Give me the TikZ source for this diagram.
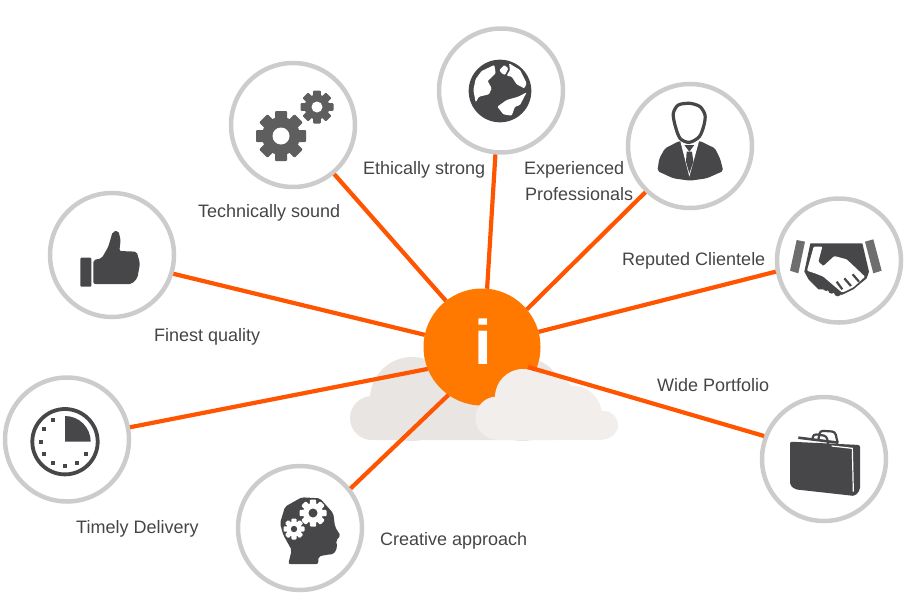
\documentclass[tikz,border=0pt]{standalone}
\usepackage{fontspec}
\setmainfont{Liberation Sans}
\usetikzlibrary{calc}
\definecolor{ringgrey}{rgb}{0.80, 0.80, 0.80}
\definecolor{spokeorange}{rgb}{1.0, 0.33, 0.0}
\definecolor{huborange}{rgb}{1.0, 0.47, 0.0}
\definecolor{icondark}{rgb}{0.28, 0.28, 0.29}
\definecolor{geargrey}{rgb}{0.37, 0.37, 0.37}
\definecolor{bargrey}{rgb}{0.43, 0.43, 0.43}
\definecolor{textgrey}{rgb}{0.27, 0.27, 0.28}
\definecolor{cloudback}{rgb}{0.91, 0.90, 0.89}
\definecolor{cloudfront}{rgb}{0.945, 0.933, 0.925}
\tikzset{
	ring/.style={circle, draw=ringgrey, fill=white, line width=4.5pt, minimum size=124pt, inner sep=0pt, outer sep=2.2pt},
	hub/.style={circle, fill=huborange, minimum size=117pt, inner sep=0pt, outer sep=0pt},
	spoke/.style={line width=4.2pt, spokeorange},
	lbl/.style={anchor=west, inner sep=0pt, text=textgrey, font=\fontsize{18}{26}\selectfont}
}
% x, y, tooth radius, body radius, hole radius, gear colour, hole colour
\newcommand{\gearicon}[7]{
	\foreach \a in {0,45,90,135} {
		\fill[#6, rotate around={\a:(#1,#2)}, rounded corners=1pt] ({#1-#3*0.24},{#2-#3}) rectangle ({#1+#3*0.24},{#2+#3});
	}
	\fill[#6] (#1,#2) circle (#4);
	\fill[#7] (#1,#2) circle (#5);
}

\begin{document}
\begin{tikzpicture}[x=1pt, y=-1pt]
	\useasboundingbox (0,0) rectangle (910,600);

	\fill[cloudback] (372,418) circle (22);
	\fill[cloudback] (412,399) circle (42);
	\fill[cloudback] (522,399) circle (42);
	\fill[cloudback, rounded corners=3pt] (372,399) rectangle (560,440);

	\node[hub] (info) at (482,347) {};
	\node[font=\bfseries\fontsize{63}{63}\selectfont, text=white, inner sep=0pt] (infotext) at (483,342) {i};

	\node[ring] (gears) at (293,125) {};
	\node[ring] (globe) at (501,90.5) {};
	\node[ring] (person) at (690,146) {};
	\node[ring] (shake) at (839,260.5) {};
	\node[ring] (thumb) at (112,255) {};
	\node[ring] (clock) at (67,439.5) {};
	\node[ring] (head) at (300,528) {};
	\node[ring] (case) at (824,459) {};

	\draw[spoke] (gears.-50) -- (info.128);
	\draw[spoke] (globe.-95) -- (info.85);
	\draw[spoke] (person.-134) -- (info.40);
	\draw[spoke] (shake.-170) -- (info.15);
	\draw[spoke] (thumb.-17) -- (info.168);
	\draw[spoke] (clock.11) -- (info.202);
	\draw[spoke] (head.38) -- (info.235);

	\begin{scope}
		\clip (470,360) rectangle (625,439.5);
		\fill[cloudfront] (497,418) circle (21.5);
		\fill[cloudfront] (523,397) circle (28);
		\fill[cloudfront] (545,410) circle (36);
		\fill[cloudfront] (573,415) circle (29);
		\fill[cloudfront] (604,425) circle (14);
		\fill[cloudfront] (497,415) rectangle (604,440);
	\end{scope}

	\coordinate (caseend) at (528,367);
	\draw[spoke] (case.159) -- (caseend);

	\node[lbl] (technical) at (198,213) {Technically sound};
	\node[lbl] (ethical) at (363,170) {Ethically strong};
	\node[lbl, align=left] (experience) at (524,181) {Experienced\\\hspace{1pt}Professionals};
	\node[lbl] (reputed) at (622,261) {Reputed Clientele};
	\node[lbl] (wide) at (657,385) {Wide Portfolio};
	\node[lbl] (finest) at (154,337) {Finest quality};
	\node[lbl] (timely) at (76,529) {Timely Delivery};
	\node[lbl] (creative) at (380,541) {Creative approach};

	\gearicon{281}{136}{25}{19}{8.5}{geargrey}{white}
	\gearicon{317}{107}{16.5}{12.5}{5.5}{geargrey}{white}

	\begin{scope}[shift={(465,55)}, scale=1/3]
		\fill[icondark] (105,108) circle (94);
		\fill[white, rounded corners=1pt] (88,30) -- (50,48) -- (32,72) -- (25,105) -- (32,142) -- (42,125) -- (72,118) -- (80,100) -- (68,78) -- (92,55) -- cycle;
		\fill[white, rounded corners=1pt] (103,45) -- (118,30) -- (130,40) -- (120,60) -- (110,55) -- cycle;
		\fill[white, rounded corners=1pt] (132,25) -- (165,45) -- (185,85) -- (178,100) -- (155,88) -- (140,65) -- (125,62) -- (135,45) -- cycle;
		\fill[white, rounded corners=1pt] (97,155) -- (125,135) -- (160,125) -- (185,112) -- (165,150) -- (150,155) -- (140,182) -- (115,178) -- cycle;
	\end{scope}

	\begin{scope}[shift={(650,95)}, scale=1/3]
		\fill[icondark, rounded corners=2pt] (22,228) -- (28,190) -- (45,160) -- (88,138) -- (150,138) -- (195,160) -- (210,190) -- (220,228) -- (170,250) -- (120,257) -- (70,250) -- cycle;
		\fill[white] (90,135) -- (148,135) -- (118,245) -- cycle;
		\draw[icondark, line width=3.2pt, fill=white] plot[smooth cycle] coordinates {(70,55) (85,30) (120,25) (150,35) (165,60) (162,90) (148,125) (118,142) (90,130) (75,90)};
		\fill[icondark] (103,150) -- (133,150) -- (118,170) -- cycle;
		\fill[icondark] (110,170) -- (126,170) -- (130,200) -- (118,235) -- (108,200) -- cycle;
	\end{scope}

	\begin{scope}[shift={(785,230)}, scale=1/3]
		\fill[bargrey] (35,30) -- (60,35) -- (40,130) -- (15,122) -- cycle;
		\fill[bargrey] (240,35) -- (265,28) -- (290,122) -- (265,130) -- cycle;
		\fill[icondark] (76,40) -- (232,40) -- (252,125) -- (245,145) -- (205,178) -- (170,195) -- (145,178) -- (100,178) -- (72,150) -- (58,125) -- cycle;
		\foreach \bx/\by in {78/138, 92/152, 108/163, 124/172, 140/180, 158/188} {
			\fill[icondark] (\bx,\by) circle (11);
		}
		\fill[white, rounded corners=1pt] (66,122) -- (86,50) -- (112,50) -- (100,95) -- (115,108) -- (148,78) -- (185,88) -- (240,140) -- (205,172) -- (172,188) -- (150,170) -- (115,140) -- (90,130) -- cycle;
		\draw[icondark, line width=2.2pt] (155,155) -- (172,178);
		\draw[icondark, line width=2.2pt] (178,145) -- (198,168);
		\draw[icondark, line width=2.2pt] (203,133) -- (222,155);
	\end{scope}

	\begin{scope}[shift={(0,190)}, scale=1/3]
		\fill[icondark, rounded corners=1pt] (241,203) rectangle (274,290);
		\fill[icondark, rounded corners=2pt] (280,210) -- (305,205) -- (325,170) -- (338,125) -- (355,122) -- (362,150) -- (358,183) -- (410,185) -- (420,220) -- (412,265) -- (395,282) -- (280,282) -- cycle;
	\end{scope}

	\draw[icondark, line width=3.8pt] (65,441.7) circle (32.7);
	\fill[icondark] (65,441.7) -- (65,416) .. controls (79.2,416) and (90.7,427.5) .. (90.7,441.7) -- cycle;
	\foreach \a in {30,60,...,240} {
		\fill[icondark] (65,441.7) ++(\a:24.5) ++(-2,-2) rectangle ++(4,4);
	}

	\fill[icondark, rounded corners=2pt] (288.3,564) -- (291.7,550) -- (283.3,535) -- (280,523.3) -- (285,506.7) -- (301.7,497.3) -- (320,498.3) -- (333.3,513.3) -- (335,526.7) -- (340.7,536) -- (336,540) -- (337.3,547.3) -- (334,554) -- (325,555) -- (318.3,556.7) -- (318.3,564) -- cycle;
	\gearicon{313}{513}{13.5}{10}{4.5}{white}{icondark}
	\gearicon{294}{529}{10.5}{7.5}{3.2}{white}{icondark}

	\begin{scope}[shift={(755,390)}, scale=1/3]
		\draw[icondark, line width=2.2pt, rounded corners=3pt] (190,150) -- (195,122) -- (240,125) -- (248,158);
		\draw[icondark, line width=2.2pt, rounded corners=3pt] (172,150) -- (175,132) -- (215,138) -- (220,165);
		\draw[icondark, line width=2.6pt] (130,143) -- (250,158);
		\fill[icondark, rounded corners=2pt] (105,155) -- (315,165) -- (315,300) -- (300,318) -- (120,298) -- (105,285) -- cycle;
		\draw[white, line width=1.2pt] (230,168) -- (292,175) -- (295,305);
	\end{scope}
\end{tikzpicture}
\end{document}
